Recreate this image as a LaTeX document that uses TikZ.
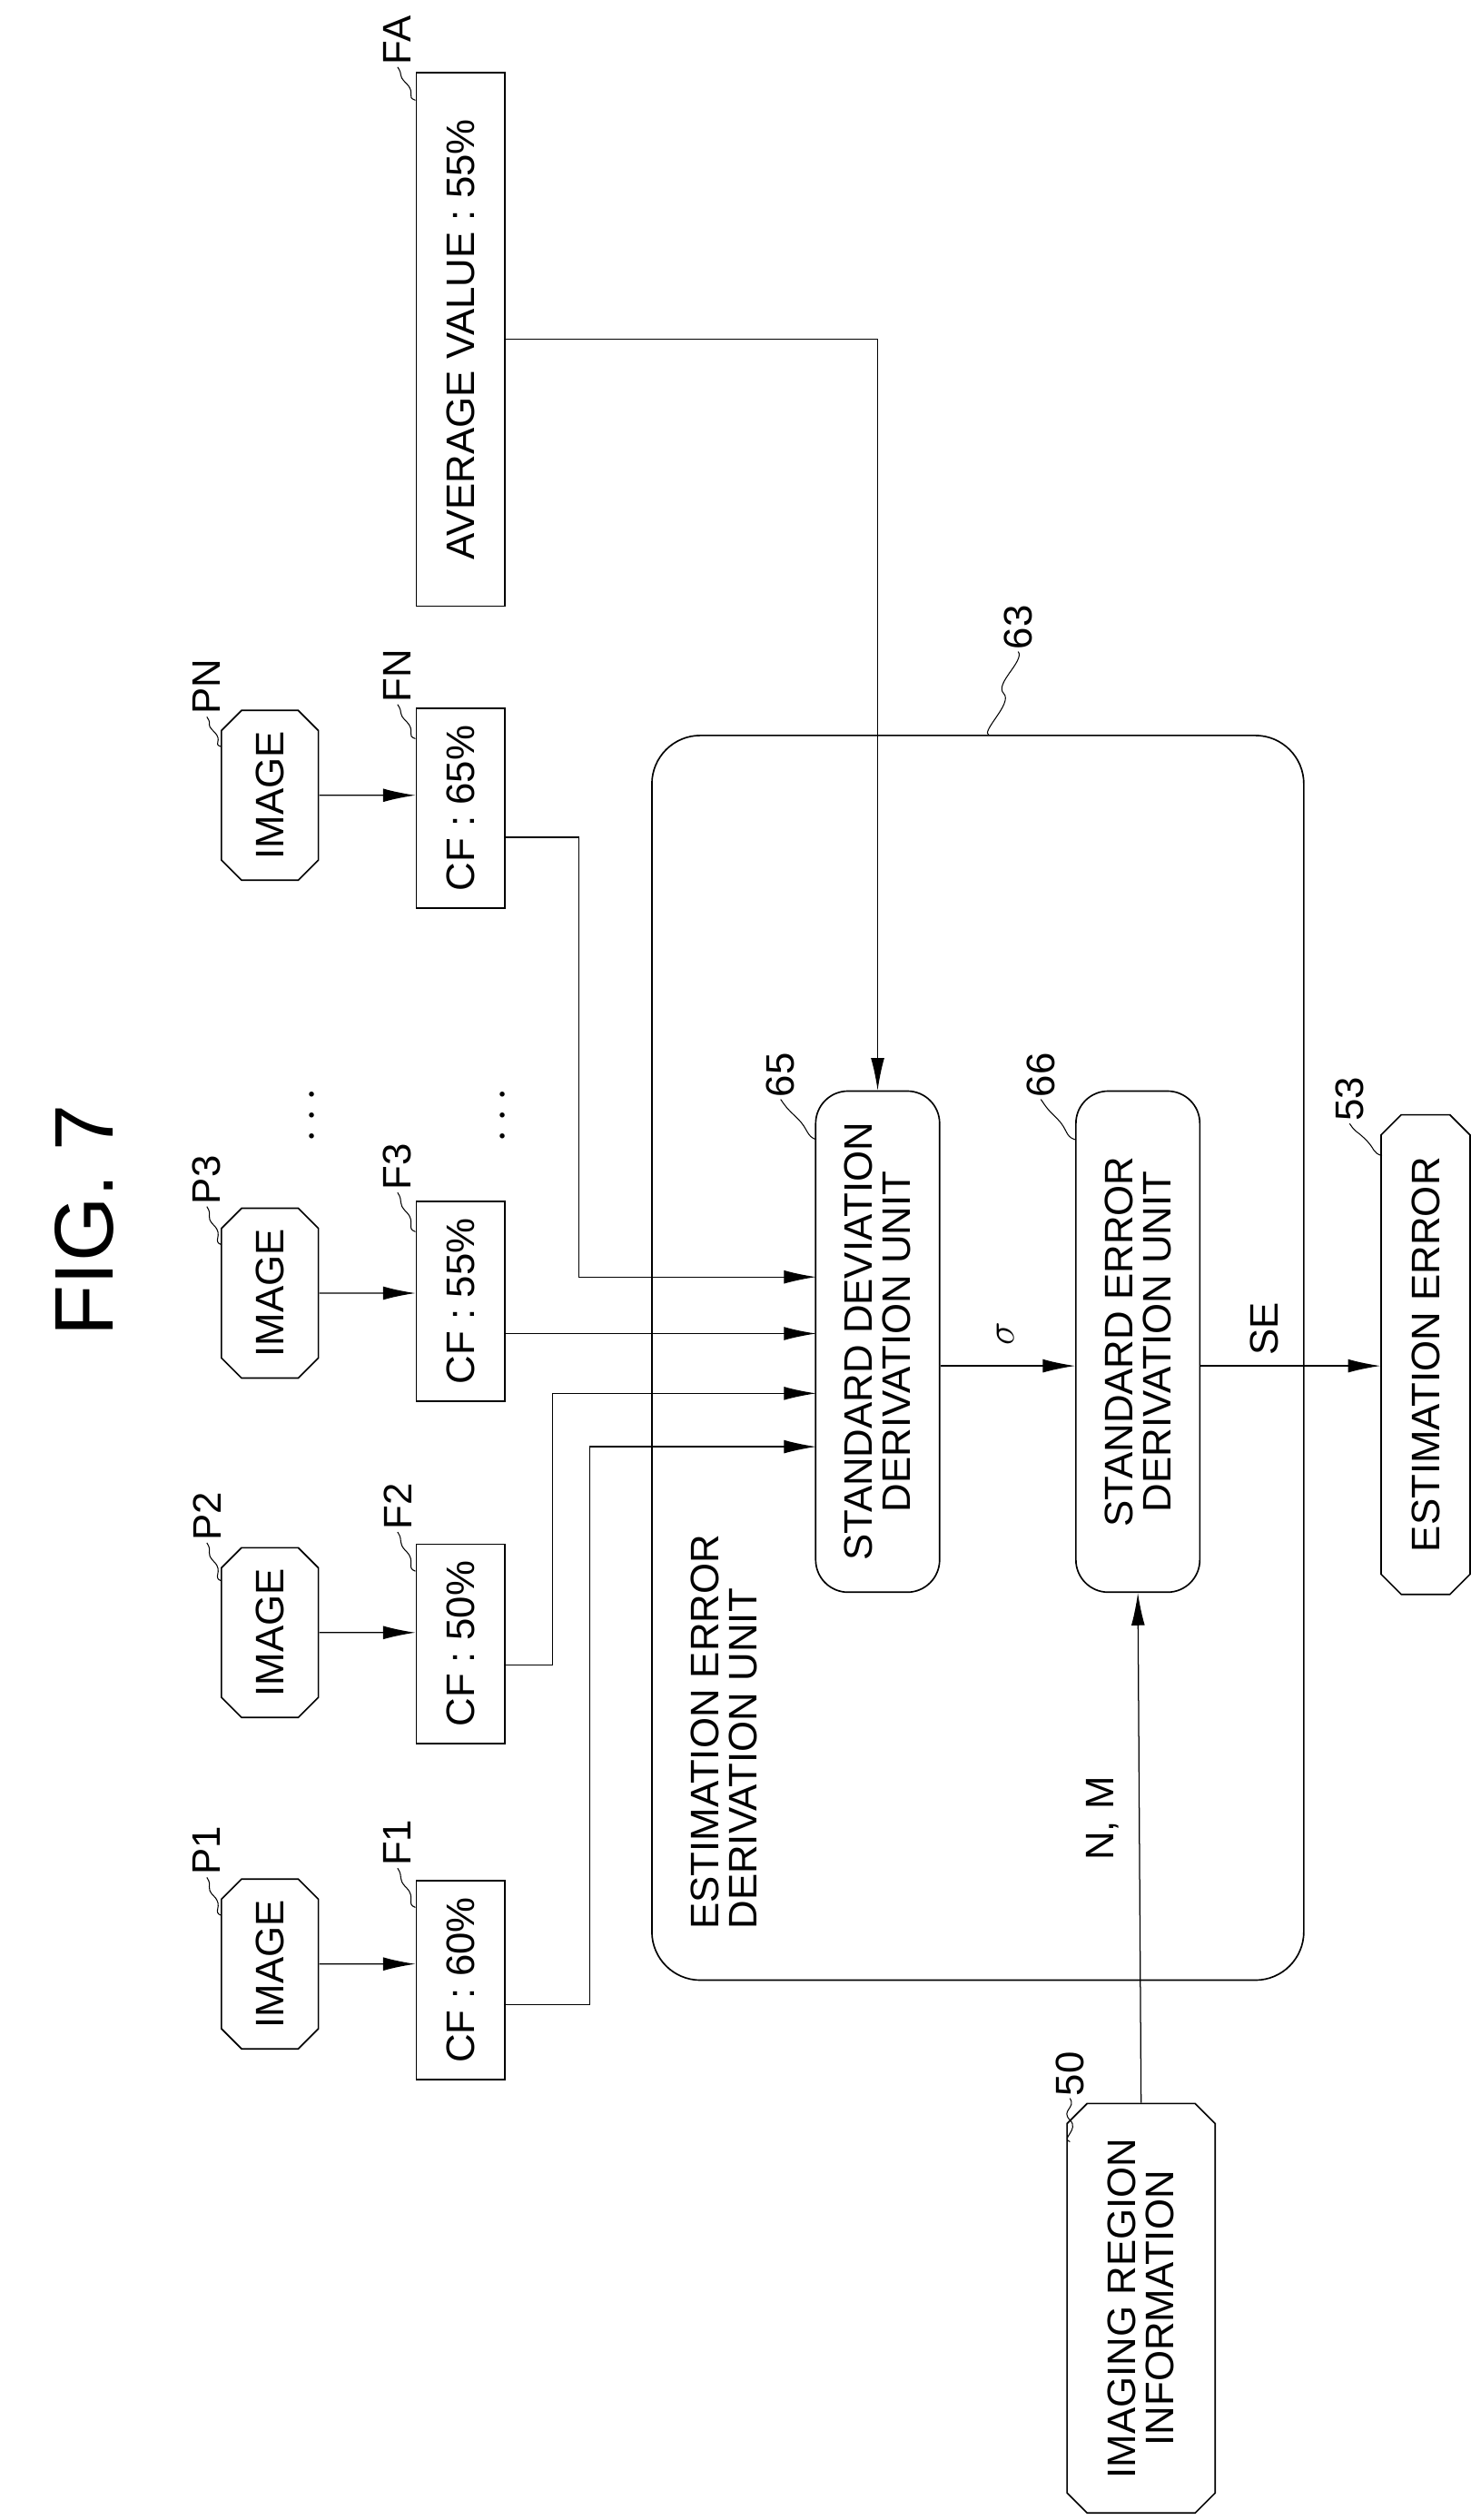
\documentclass[tikz,border=0pt]{standalone}
\usepackage{fontspec}
\setmainfont{Liberation Sans}
\usetikzlibrary{shapes.misc,arrows.meta,calc}

\tikzset{
  img/.style={chamfered rectangle, chamfered rectangle xsep=0.25cm, chamfered rectangle angle=45, draw, line width=0.8pt, rotate=90, minimum width=3.15cm, minimum height=1.8cm, inner sep=0pt},
  cf/.style={rectangle, draw, line width=0.8pt, rotate=90, minimum width=3.7cm, minimum height=1.65cm, inner sep=0pt},
  unit/.style={rounded corners=0.6cm, draw, line width=0.8pt, rotate=90, minimum width=9.3cm, minimum height=2.3cm, align=center, inner sep=0pt},
  lbl/.style={rotate=90, inner sep=1pt},
  arr/.style={-{Latex[length=0.6cm,width=0.25cm]}, line width=0.6pt},
  ln/.style={line width=0.6pt}
}
\newcommand{\leader}[2]{\draw[line width=0.5pt] (#1) .. controls +(-6,-2) and +(6,6) .. ($(#1)!0.5!(#2)$) .. controls +(-6,-6) and +(4,6) .. (#2);}

\begin{document}
\begin{tikzpicture}[x=0.03cm, y=-0.03cm, font=\fontsize{21}{23}\selectfont]
	\useasboundingbox (0,0) rectangle (910,1559);
	\node[lbl, font=\fontsize{44}{48}\selectfont] (fig) at (52,755) {FIG. 7};
	% images and certainty factors
	\node[img] (P1) at (167,1215) {IMAGE};
	\node[img] (P2) at (167,1010) {IMAGE};
	\node[img] (P3) at (167,800) {IMAGE};
	\node[img] (PN) at (167,492) {IMAGE};
	\node[cf] (F1) at (285,1225) {CF : 60\%};
	\node[cf] (F2) at (285,1017) {CF : 50\%};
	\node[cf] (F3) at (285,805) {CF : 55\%};
	\node[cf] (FN) at (285,500) {CF : 65\%};
	\node[cf, minimum width=9.9cm] (FA) at (285,210) {AVERAGE VALUE : 55\%};
	\node[lbl, font=\fontsize{30}{30}\bfseries] (d1) at (194,690) {$\cdots$};
	\node[lbl, font=\fontsize{30}{30}\bfseries] (d2) at (312,690) {$\cdots$};
	% estimation error derivation unit
	\node[draw, line width=0.8pt, rounded corners=0.9cm, minimum width=12.1cm, minimum height=23.1cm] (u63) at (605,840) {};
	\node[lbl, align=left, anchor=south west] (u63t) at (470,1195) {ESTIMATION ERROR\\[-3pt]DERIVATION UNIT};
	\node[unit] (u65) at (543,830) {STANDARD DEVIATION\\[-3pt]DERIVATION UNIT};
	\node[unit] (u66) at (704,830) {STANDARD ERROR\\[-3pt]DERIVATION UNIT};
	\node[img, minimum width=8.9cm, minimum height=1.65cm] (u53) at (882,838) {ESTIMATION ERROR};
	\node[img, minimum width=7.6cm, minimum height=2.75cm, align=center] (u50) at (706,1428) {IMAGING REGION\\[-3pt]INFORMATION};
	% reference labels
	\node[lbl] (lP1) at (128,1145) {P1};
	\node[lbl] (lP2) at (128,938) {P2};
	\node[lbl] (lP3) at (128,730) {P3};
	\node[lbl] (lPN) at (128,425) {PN};
	\node[lbl] (lF1) at (246,1140) {F1};
	\node[lbl] (lF2) at (246,932) {F2};
	\node[lbl] (lF3) at (246,722) {F3};
	\node[lbl] (lFN) at (246,418) {FN};
	\node[lbl] (lFA) at (246,25) {FA};
	\node[lbl] (l65) at (483,665) {65};
	\node[lbl] (l66) at (644,665) {66};
	\node[lbl] (l53) at (835,680) {53};
	\node[lbl] (l63) at (630,388) {63};
	\node[lbl] (l50) at (662,1283) {50};
	\coordinate (cP1) at (137,1185);
	\coordinate (cP2) at (137,978);
	\coordinate (cP3) at (137,770);
	\coordinate (cPN) at (137,462);
	\coordinate (cF1) at (257,1180);
	\coordinate (cF2) at (257,972);
	\coordinate (cF3) at (257,762);
	\coordinate (cFN) at (257,457);
	\coordinate (cFA) at (257,62);
	\coordinate (c65) at (505,705);
	\coordinate (c66) at (665,705);
	\coordinate (c53) at (855,715);
	\coordinate (c63) at (612,455);
	\coordinate (c50) at (662,1325);
	\leader{cP1}{lP1.west}
	\leader{cP2}{lP2.west}
	\leader{cP3}{lP3.west}
	\leader{cPN}{lPN.west}
	\leader{cF1}{lF1.west}
	\leader{cF2}{lF2.west}
	\leader{cF3}{lF3.west}
	\leader{cFN}{lFN.west}
	\leader{cFA}{lFA.west}
	\leader{c65}{l65.west}
	\leader{c66}{l66.west}
	\leader{c53}{l53.west}
	\leader{c63}{l63.west}
	\leader{c50}{l50.west}
	% connections
	\draw[arr] (P1) -- (P1 -| F1.north);
	\draw[arr] (P2) -- (P2 -| F2.north);
	\draw[arr] (P3) -- (P3 -| F3.north);
	\draw[arr] (PN) -- (PN -| FN.north);
	\coordinate (i1) at (505,895);
	\coordinate (i2) at (505,862);
	\coordinate (i3) at (505,825);
	\coordinate (i4) at (505,790);
	\draw[arr] (F1.south |- 0,1240) -| (365,895) -- (i1);
	\draw[arr] (F2.south |- 0,1030) -| (342,862) -- (i2);
	\draw[arr] (F3.south |- 0,825) -- (i3);
	\draw[arr] (FN.south |- 0,518) -| (358,790) -- (i4);
	\draw[arr] (FA.south |- 0,210) -| (u65.east);
	\draw[arr] (u65.south |- 0,845) -- (u66.north |- 0,845);
	\draw[arr] (u66.south |- 0,845) -- (u53.north |- 0,845);
	\draw[arr] (u50.east) -- (u66.west);
	\node[lbl] (sig) at (622,825) {$\sigma$};
	\node[lbl] (se) at (782,822) {SE};
	\node[lbl] (nm) at (682,1125) {N, M};
\end{tikzpicture}
\end{document}
